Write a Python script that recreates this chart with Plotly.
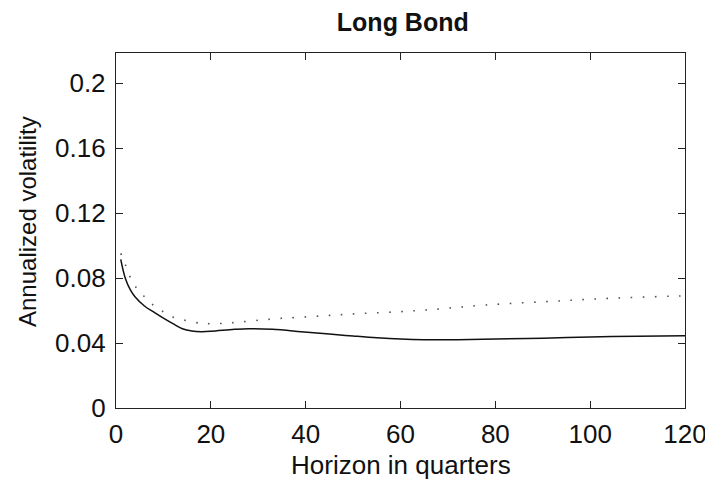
import plotly.graph_objects as go

# Data
solid_x = [1, 2, 3, 4, 6, 8, 10, 12, 14, 16, 18, 20, 25, 28, 33, 39, 45, 50, 55, 60, 65, 72, 80, 90, 100, 110, 120]
solid_y = [0.0915, 0.0795, 0.0728, 0.0685, 0.0628, 0.0590, 0.0553, 0.0519, 0.0488, 0.0474, 0.0470, 0.0472, 0.0484, 0.0488,
           0.0484, 0.0470, 0.0455, 0.0443, 0.0432, 0.0424, 0.0420, 0.0420, 0.0424, 0.0430, 0.0437, 0.0442, 0.0445]

dot_x = [1, 2, 3, 4, 6, 8, 10, 12, 15, 18, 20, 23, 26, 30, 34, 38, 45, 52, 60, 67, 78, 94, 104, 118, 120]
dot_y = [0.0952, 0.0880, 0.0805, 0.0752, 0.0685, 0.0630, 0.0592, 0.0560, 0.0537, 0.0521, 0.0519, 0.0521, 0.0529, 0.0540,
         0.0550, 0.0557, 0.0570, 0.0582, 0.0593, 0.0607, 0.0634, 0.0660, 0.0675, 0.0689, 0.0690]

x_ticks = [0, 20, 40, 60, 80, 100, 120]
y_ticks = [0, 0.04, 0.08, 0.12, 0.16, 0.2]
y_tick_labels = ["0", "0.04", "0.08", "0.12", "0.16", "0.2"]

FONT = "Liberation Sans, Arial, Helvetica, sans-serif"

fig = go.Figure()
fig.add_trace(go.Scatter(x=dot_x, y=dot_y, mode="lines", line=dict(color="#555555", width=1.6, dash="1.6px,10.5px", shape="spline"),
                         showlegend=False, hoverinfo="skip"))
fig.add_trace(go.Scatter(x=solid_x, y=solid_y, mode="lines", line=dict(color="#111111", width=1.5, shape="spline"),
                         showlegend=False, hoverinfo="skip"))

axis_common = dict(showgrid=False, zeroline=False, showline=True, linecolor="#222222", linewidth=1.4,
                   mirror="ticks", ticks="inside", ticklen=7, tickwidth=1.3, tickcolor="#222222", automargin=False,
                   tickfont=dict(family=FONT, size=26, color="#111111"))

# the page body adds an 8px offset, so the figure is 8px smaller than the window
W, H = 705, 474
L, T, R, B = 108, 45, 28, 74
plot_h = H - T - B

fig.update_layout(
    width=W, height=H,
    margin=dict(l=L, r=R, t=T, b=B),
    paper_bgcolor="white", plot_bgcolor="white",
    title=dict(text="<b>Long Bond</b>", x=0.504, xref="paper", xanchor="center", y=1 - 14 / H, yref="container",
               yanchor="middle", font=dict(family=FONT, size=25, color="#111111")),
    xaxis=dict(range=[0, 120], tickvals=x_ticks, ticklabelstandoff=3, **axis_common),
    yaxis=dict(range=[0, 0.2185], tickvals=y_ticks, ticktext=y_tick_labels, ticklabelstandoff=4, **axis_common),
    annotations=[
        dict(text="Annualized volatility", textangle=-90, xref="paper", yref="paper",
             x=(19 - L) / 569, y=(T + plot_h - 214) / plot_h, xanchor="center", yanchor="middle", showarrow=False,
             font=dict(family=FONT, size=24, color="#111111")),
        dict(text="Horizon in quarters", xref="paper", yref="paper",
             x=0.5, y=-(457 - (T + plot_h)) / plot_h, xanchor="center", yanchor="middle", showarrow=False,
             font=dict(family=FONT, size=26, color="#111111")),
    ],
)

fig.write_html("out.html")
